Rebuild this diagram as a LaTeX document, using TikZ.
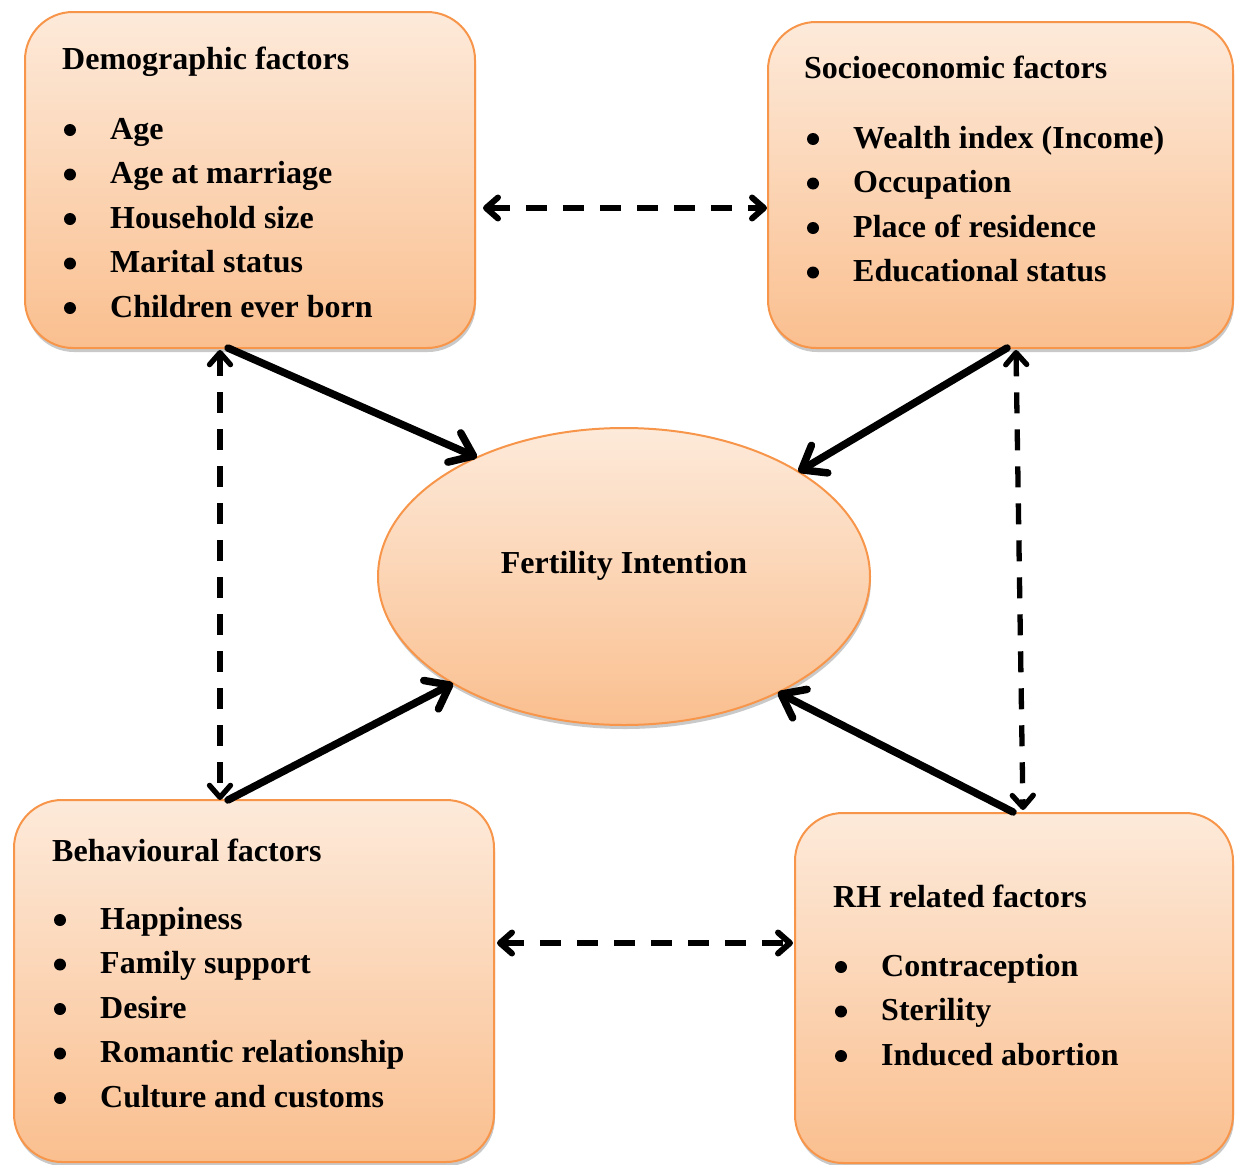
\documentclass[tikz,border=0pt]{standalone}
\usepackage{fontspec}
\setmainfont{Liberation Serif}
\usetikzlibrary{shapes.geometric,arrows.meta,shadows}
\definecolor{boxtop}{HTML}{FDEADA}
\definecolor{boxbot}{HTML}{FABF8F}
\definecolor{boxline}{HTML}{F7964A}
\begin{document}
\begin{tikzpicture}[x=1pt,y=1pt,
  factorbox/.style={draw=boxline,line width=2pt,rounded corners=48pt,
    top color=boxtop,bottom color=boxbot,inner sep=0pt,outer sep=0pt,
    drop shadow={shadow xshift=1pt,shadow yshift=-4pt,opacity=0.3,fill=black!70}},
  centreell/.style={ellipse,draw=boxline,line width=2pt,
    top color=boxtop,bottom color=boxbot,inner sep=0pt,outer sep=0pt,
    drop shadow={shadow xshift=1pt,shadow yshift=-4pt,opacity=0.3,fill=black!70}},
  txt/.style={anchor=base west,inner sep=0pt,font=\fontsize{32}{40}\selectfont\bfseries},
  bul/.style={circle,fill=black,inner sep=0pt,minimum size=12pt},
  solidarr/.style={line width=7.5pt,line cap=round,-{Straight Barb[length=21pt,width=32pt,line cap=round,line join=round]},
    preaction={draw=black,opacity=0.15,transform canvas={yshift=-3pt}}},
  dasharr/.style={line width=6pt,dash pattern=on 21pt off 16pt,
    {Straight Barb[length=12pt,width=21pt,line cap=round,line join=round]}-{Straight Barb[length=12pt,width=21pt,line cap=round,line join=round]}}
]
\useasboundingbox (0,0) rectangle (1235,-1165);

% boxes
\node[factorbox,minimum width=450pt,minimum height=336pt] (demo) at (250,-180) {};
\node[factorbox,minimum width=465pt,minimum height=326pt] (socio) at (1000.5,-185) {};
\node[factorbox,minimum width=480pt,minimum height=362pt] (behav) at (254,-981) {};
\node[factorbox,minimum width=438pt,minimum height=350pt] (rh) at (1014,-988) {};
\node[centreell,minimum width=492pt,minimum height=297pt] (fi) at (624,-576.5) {};

% texts
\node[txt] (demotitle) at (62,-69) {Demographic factors};
\foreach \t [count=\i] in {Age,Age at marriage,Household size,Marital status,Children ever born}{
  \node[bul] (db\i) at (70,{-130-44.5*(\i-1)}) {};
  \node[txt] (dt\i) at (110,{-139-44.5*(\i-1)}) {\t};
}
\node[txt] (sociotitle) at (804,-78) {Socioeconomic factors};
\foreach \t [count=\i] in {Wealth index (Income),Occupation,Place of residence,Educational status}{
  \node[bul] (sb\i) at (813,{-139-44.5*(\i-1)}) {};
  \node[txt] (st\i) at (853,{-148-44.5*(\i-1)}) {\t};
}
\node[txt] (behavtitle) at (52,-861) {Behavioural factors};
\foreach \t [count=\i] in {Happiness,Family support,Desire,Romantic relationship,Culture and customs}{
  \node[bul] (bb\i) at (60,{-920-44.5*(\i-1)}) {};
  \node[txt] (bt\i) at (100,{-929-44.5*(\i-1)}) {\t};
}
\node[txt] (rhtitle) at (833,-907) {RH related factors};
\foreach \t [count=\i] in {Contraception,Sterility,Induced abortion}{
  \node[bul] (rb\i) at (841,{-967-44.5*(\i-1)}) {};
  \node[txt] (rt\i) at (881,{-976-44.5*(\i-1)}) {\t};
}
\node[anchor=base,inner sep=0pt,font=\fontsize{32}{40}\selectfont\bfseries] (fitext) at (624,-573) {Fertility Intention};

% solid arrows
\draw[solidarr] ([xshift=-22pt]demo.south) -- (fi.141.7);
\draw[solidarr] ([xshift=6.5pt]socio.south) -- (fi.31.7);
\draw[solidarr] ([xshift=-26pt]behav.north) -- (fi.212.4);
\draw[solidarr] ([xshift=-1pt,yshift=1pt]rh.north) -- (fi.323.9);

% dashed arrows
\draw[dasharr] ([xshift=8pt,yshift=-28pt]demo.east) -- ([xshift=-1pt,yshift=-23pt]socio.west);
\draw[dasharr] ([xshift=3pt,yshift=38pt]behav.east) -- ([xshift=-2pt,yshift=45pt]rh.west);
\draw[dasharr,line width=5.3pt] ([xshift=-30pt,yshift=-2pt]demo.south) -- ([xshift=-34pt]behav.north);
\draw[dasharr,line width=5.3pt] ([xshift=15.5pt,yshift=-2pt]socio.south) -- ([xshift=9pt,yshift=3pt]rh.north);
\end{tikzpicture}
\end{document}
